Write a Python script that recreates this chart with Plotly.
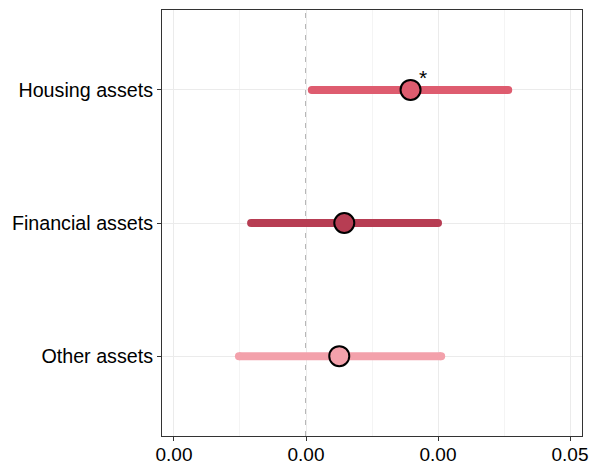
import plotly.graph_objects as go

# Estimates with 95% intervals for each asset class
categories = ["Other assets", "Financial assets", "Housing assets"]
estimates = [0.0063, 0.00725, 0.0198]
ci_low = [-0.0127, -0.0104, 0.0011]
ci_high = [0.0256, 0.0250, 0.0383]
colors = ["#F3A1AB", "#B73D53", "#DE5C6F"]
significance = ["", "", "*"]

x_tickvals = [-0.025, 0.0, 0.025, 0.05]
x_ticktext = ["0.00", "0.00", "0.00", "0.05"]
x_minor = [-0.0125, 0.0125, 0.0375]

FONT = "Liberation Sans, Arial, sans-serif"

fig = go.Figure()

for cat, est, lo, hi, col, sig in zip(categories, estimates, ci_low, ci_high, colors, significance):
    # interval bar with rounded ends
    fig.add_trace(go.Scatter(
        x=[lo, hi], y=[cat, cat], mode="lines+markers",
        line=dict(color=col, width=8),
        marker=dict(color=col, size=8, line=dict(width=0)),
        hoverinfo="skip", showlegend=False,
    ))
    # point estimate
    fig.add_trace(go.Scatter(
        x=[est], y=[cat], mode="markers",
        marker=dict(color=col, size=20, line=dict(color="black", width=2)),
        showlegend=False,
    ))
    if sig:
        fig.add_annotation(x=est, y=cat, text=sig, showarrow=False,
                           xshift=12, yshift=12,
                           font=dict(size=21, color="black", family=FONT))

fig.add_vline(x=0, line=dict(color="#A0A0A0", width=1.5, dash="5px,6px"), layer="below")

fig.update_layout(
    width=590, height=464,
    margin=dict(l=162, r=8, t=10, b=28),
    plot_bgcolor="white", paper_bgcolor="white",
    font=dict(family=FONT, size=19.7, color="black"),
)

fig.update_xaxes(
    range=[-0.02727, 0.05227],
    tickvals=x_tickvals, ticktext=x_ticktext,
    ticks="outside", ticklen=4, tickcolor="#333333",
    ticklabelstandoff=-3,
    showgrid=True, gridcolor="#EBEBEB", gridwidth=1,
    minor=dict(tickvals=x_minor, showgrid=True, gridcolor="#F4F4F4", gridwidth=1, ticks=""),
    showline=True, mirror=True, linecolor="#333333", linewidth=1,
    zeroline=False, automargin=False,
    tickfont=dict(size=19, color="black"),
)

fig.update_yaxes(
    type="category", categoryorder="array", categoryarray=categories,
    range=[-0.6, 2.6],
    ticks="outside", ticklen=4, tickcolor="#333333",
    showgrid=True, gridcolor="#EBEBEB", gridwidth=1,
    showline=True, mirror=True, linecolor="#333333", linewidth=1,
    zeroline=False, automargin=False,
    tickfont=dict(size=19.7, color="black"),
)

fig.write_html("out.html")
